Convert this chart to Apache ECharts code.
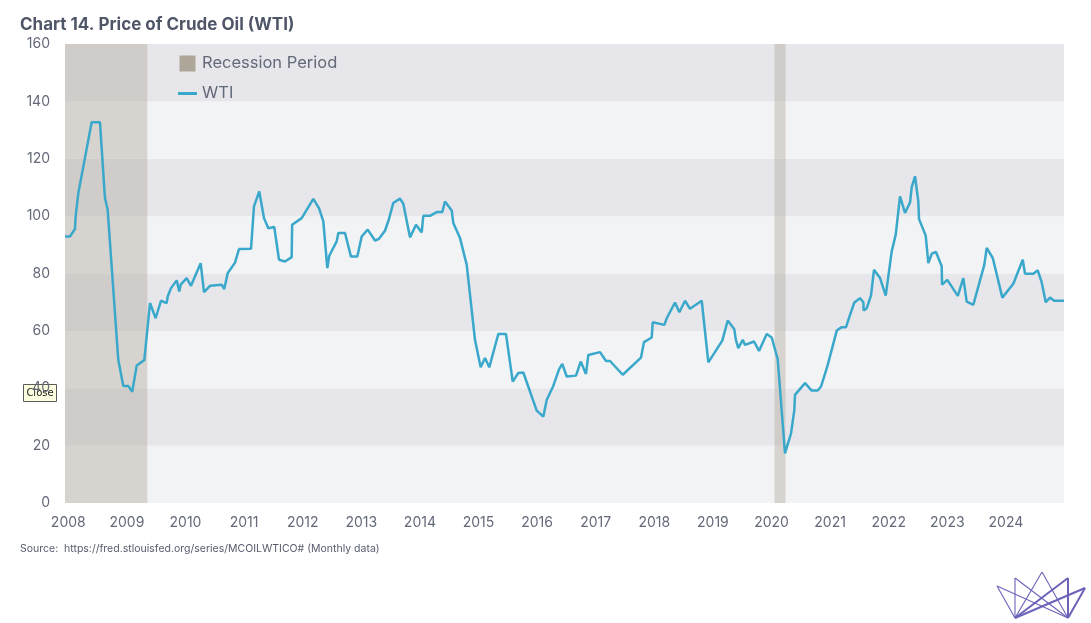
<!DOCTYPE html>
<html>
<head>
<meta charset="utf-8">
<title>Chart 14. Price of Crude Oil (WTI)</title>
<script src="https://cdn.jsdelivr.net/npm/echarts@6/dist/echarts.min.js"></script>
<style>
  html, body { margin: 0; padding: 0; background: #fff; }
  #chart { width: 1091px; height: 623px; }
</style>
</head>
<body>
<div id="chart"></div>
<script>
// WTI price: date as decimal year, value in USD/bbl
const wtiYear = [
  2007.944, 2008.029, 2008.114, 2008.126, 2008.171, 2008.399, 2008.541, 2008.626, 2008.672, 2008.853,
  2008.939, 2009.024, 2009.092, 2009.167, 2009.297, 2009.394, 2009.491, 2009.582, 2009.679, 2009.696,
  2009.753, 2009.850, 2009.894, 2009.918, 2010.020, 2010.094, 2010.259, 2010.316, 2010.418, 2010.618,
  2010.662, 2010.720, 2010.845, 2010.913, 2011.118, 2011.169, 2011.259, 2011.340, 2011.413, 2011.515,
  2011.596, 2011.698, 2011.812, 2011.820, 2011.983, 2012.181, 2012.278, 2012.352, 2012.420, 2012.454,
  2012.580, 2012.608, 2012.722, 2012.824, 2012.932, 2013.007, 2013.109, 2013.234, 2013.302, 2013.404,
  2013.473, 2013.546, 2013.660, 2013.717, 2013.831, 2013.934, 2014.031, 2014.058, 2014.172, 2014.287,
  2014.382, 2014.428, 2014.543, 2014.570, 2014.684, 2014.799, 2014.940, 2015.037, 2015.111, 2015.184,
  2015.338, 2015.469, 2015.584, 2015.679, 2015.765, 2015.993, 2016.106, 2016.164, 2016.276, 2016.374,
  2016.430, 2016.505, 2016.664, 2016.744, 2016.834, 2016.874, 2017.073, 2017.176, 2017.244, 2017.461,
  2017.773, 2017.824, 2017.956, 2017.973, 2018.171, 2018.212, 2018.353, 2018.427, 2018.524, 2018.609,
  2018.809, 2018.922, 2019.160, 2019.253, 2019.365, 2019.389, 2019.433, 2019.509, 2019.548, 2019.702,
  2019.787, 2019.918, 2020.003, 2020.106, 2020.230, 2020.333, 2020.389, 2020.401, 2020.572, 2020.686,
  2020.788, 2020.845, 2020.952, 2021.027, 2021.113, 2021.198, 2021.271, 2021.340, 2021.413, 2021.510,
  2021.567, 2021.572, 2021.625, 2021.698, 2021.749, 2021.852, 2021.949, 2022.051, 2022.119, 2022.193,
  2022.278, 2022.364, 2022.392, 2022.449, 2022.505, 2022.517, 2022.631, 2022.676, 2022.734, 2022.807,
  2022.904, 2022.910, 2023.000, 2023.179, 2023.273, 2023.331, 2023.444, 2023.631, 2023.672, 2023.775,
  2023.939, 2024.126, 2024.287, 2024.326, 2024.468, 2024.543, 2024.611, 2024.679, 2024.753, 2024.821,
  2024.991
];
const wtiValue = [
  92.9, 92.9, 95.5, 99.9, 108.0, 132.7, 132.7, 106.3, 102.2, 49.9,
  40.8, 40.8, 38.8, 47.9, 49.8, 69.7, 64.4, 70.5, 69.7, 72.0,
  74.9, 77.6, 73.7, 76.1, 78.4, 75.7, 83.6, 73.5, 75.7, 76.1,
  74.6, 80.1, 83.8, 88.5, 88.6, 103.4, 108.6, 99.3, 95.8, 96.2,
  84.8, 84.2, 85.7, 97.0, 99.3, 106.0, 102.8, 98.2, 81.9, 86.2,
  91.2, 94.1, 94.1, 85.9, 85.9, 92.9, 95.3, 91.5, 92.1, 94.9,
  99.0, 104.6, 106.1, 104.3, 92.6, 97.0, 94.3, 100.1, 100.1, 101.4,
  101.4, 105.1, 102.0, 97.6, 92.4, 83.0, 56.9, 47.3, 50.5, 47.3,
  58.9, 58.9, 42.3, 45.3, 45.5, 32.2, 30.1, 35.9, 40.8, 46.6,
  48.5, 44.1, 44.4, 49.3, 45.0, 51.6, 52.6, 49.5, 49.5, 44.7,
  50.7, 56.1, 57.7, 63.0, 62.1, 64.4, 69.9, 66.5, 70.5, 67.7,
  70.5, 49.0, 56.6, 63.6, 60.6, 57.1, 54.0, 56.9, 55.1, 56.3,
  53.0, 58.9, 57.7, 50.1, 17.3, 24.3, 32.4, 37.7, 41.8, 39.2,
  39.2, 40.6, 47.6, 53.4, 60.1, 61.3, 61.3, 65.6, 69.9, 71.4,
  70.0, 67.1, 67.9, 72.4, 81.3, 78.4, 72.3, 87.7, 93.5, 106.9,
  101.1, 104.8, 110.0, 113.9, 105.1, 99.0, 93.2, 83.6, 86.9, 87.5,
  82.5, 76.1, 77.8, 72.2, 78.4, 70.2, 69.1, 83.0, 88.9, 85.4,
  71.6, 76.4, 84.8, 79.9, 79.9, 81.1, 76.9, 70.0, 71.6, 70.5,
  70.5
];
// recession periods (decimal years)
const recessionStart = [2007.944, 2020.051];
const recessionEnd = [2009.348, 2020.239];
const yearLabels = [2008, 2009, 2010, 2011, 2012, 2013, 2014, 2015, 2016,
  2017, 2018, 2019, 2020, 2021, 2022, 2023, 2024];

const chart = echarts.init(document.getElementById('chart'), null, { renderer: 'canvas' });

const labelFont = 'Inter, "Noto Sans", sans-serif';
const textColor = '#636979';
const logoColor = '#6a63b8';

// little crown logo, bottom right
const logoLines = [
  [[997, 586], [1015, 618]],
  [[997, 586], [1068, 618]],
  [[1015, 578], [1015, 618]],
  [[1015, 578], [1068, 618]],
  [[1042, 572], [1015, 618]],
  [[1042, 572], [1068, 618]],
  [[1068, 578], [1015, 618]],
  [[1068, 578], [1068, 618]],
  [[1085, 588], [1015, 618]],
  [[1085, 588], [1068, 618]]
];

const option = {
  backgroundColor: '#ffffff',
  animation: false,
  title: {
    text: 'Chart 14. Price of Crude Oil (WTI)',
    left: 15,
    top: 11,
    textStyle: {
      fontFamily: labelFont,
      fontSize: 17,
      fontWeight: 'bold',
      color: '#4f5668'
    }
  },
  legend: {
    orient: 'vertical',
    left: 173,
    top: 50,
    itemWidth: 19,
    itemHeight: 16,
    itemGap: 13,
    textStyle: { fontFamily: labelFont, fontSize: 16.5, color: textColor },
    data: [
      { name: 'Recession Period', icon: 'path://M0,0h16v16h-16z' },
      { name: 'WTI', icon: 'path://M0,0h19v3h-19z' }
    ]
  },
  grid: { left: 65, right: 27, top: 44, bottom: 120 },
  xAxis: {
    type: 'value',
    min: recessionStart[0],
    max: wtiYear[wtiYear.length - 1],
    axisLine: { show: false },
    axisTick: { show: false },
    splitLine: { show: false },
    axisLabel: {
      customValues: yearLabels,
      formatter: v => String(Math.round(v)),
      fontFamily: labelFont,
      fontSize: 14,
      color: textColor,
      margin: 13
    }
  },
  yAxis: {
    type: 'value',
    min: 0,
    max: 160,
    interval: 20,
    axisLine: { show: false },
    axisTick: { show: false },
    splitLine: { show: false },
    splitArea: { show: true, areaStyle: { color: ['#f2f3f5', '#e6e6eb'] } },
    axisLabel: {
      fontFamily: labelFont,
      fontSize: 14,
      color: textColor,
      margin: 15
    }
  },
  series: [
    {
      name: 'Recession Period',
      type: 'custom',
      itemStyle: { color: '#aea699' },
      encode: { x: [0, 1] },
      data: recessionStart.map((s, i) => [s, recessionEnd[i]]),
      renderItem(params, api) {
        const a = api.coord([api.value(0), 160]);
        const b = api.coord([api.value(1), 0]);
        return {
          type: 'rect',
          shape: { x: a[0], y: a[1], width: b[0] - a[0], height: b[1] - a[1] },
          style: { fill: 'rgba(178,170,158,0.42)' }
        };
      },
      z: 1
    },
    {
      name: 'WTI',
      type: 'line',
      showSymbol: false,
      data: wtiYear.map((y, i) => [y, wtiValue[i]]),
      lineStyle: { color: '#3aa8ca', width: 2.5 },
      itemStyle: { color: '#3aa8ca' },
      z: 3
    }
  ],
  graphic: [
    {
      type: 'text',
      left: 20,
      top: 543,
      style: {
        text: 'Source:  https://fred.stlouisfed.org/series/MCOILWTICO# (Monthly data)',
        font: '10.5px ' + labelFont,
        fill: '#565c6c'
      }
    },
    {
      type: 'group',
      left: 23,
      top: 384,
      z: 100,
      children: [
        {
          type: 'rect',
          shape: { x: 0, y: 0, width: 33, height: 17 },
          style: { fill: '#ffffe1', stroke: '#5a5a5a', lineWidth: 1 }
        },
        {
          type: 'text',
          x: 16.5,
          y: 9,
          style: {
            text: 'Close',
            font: '10px "DejaVu Sans", sans-serif',
            fill: '#222',
            align: 'center',
            verticalAlign: 'middle'
          }
        }
      ]
    }
  ].concat(logoLines.map((l, i) => ({
    type: 'line',
    shape: { x1: l[0][0], y1: l[0][1], x2: l[1][0], y2: l[1][1] },
    style: { stroke: logoColor, lineWidth: i >= 6 ? 2 : 1.1 }
  })))
};

chart.setOption(option);
</script>
</body>
</html>
